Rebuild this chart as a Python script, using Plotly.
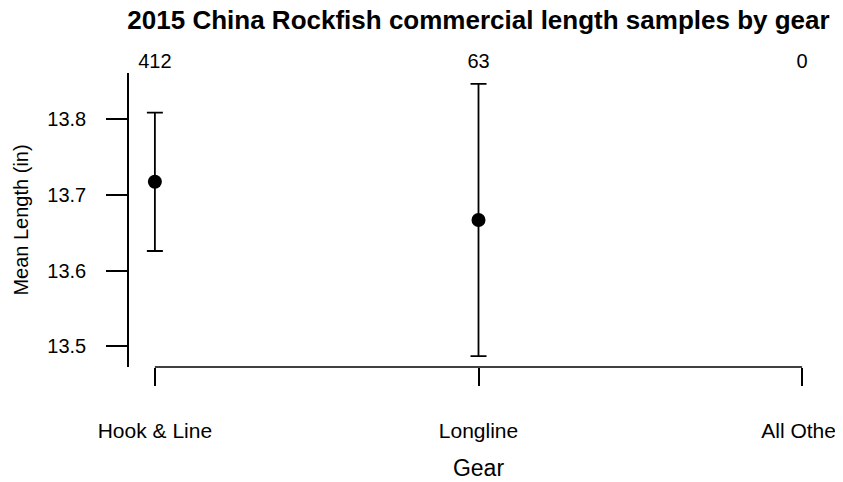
import plotly.graph_objects as go

gears = ["Hook & Line", "Longline", "All Other"]
gear_pos = [1, 2, 3]
mean_len = [13.7175, 13.667, None]
lower_ci = [13.626, 13.487, None]
upper_ci = [13.809, 13.847, None]
n_samples = ["412", "63", "0"]
y_ticks = [13.5, 13.6, 13.7, 13.8]

err_plus = [u - m if m is not None else None for u, m in zip(upper_ci, mean_len)]
err_minus = [m - l if m is not None else None for l, m in zip(lower_ci, mean_len)]

FONT = "Liberation Sans, Arial, sans-serif"

# page body has an 8px margin, so the figure is sized/offset to fill the 843x482 window
W, H = 835, 474
L, T = 121, 65
PW, PH = 699, 294

fig = go.Figure()
fig.add_trace(go.Scatter(
    x=gear_pos, y=mean_len, mode="markers",
    marker=dict(color="black", size=14),
    error_y=dict(type="data", symmetric=False, array=err_plus, arrayminus=err_minus,
                 color="black", thickness=1.8, width=8),
    showlegend=False, hoverinfo="skip",
))
# invisible trace for top axis
fig.add_trace(go.Scatter(x=gear_pos, y=[13.6] * 3, xaxis="x2", mode="markers",
                         marker=dict(opacity=0), showlegend=False, hoverinfo="skip"))

lo, hi = min(lower_ci[:2]), max(upper_ci[:2])
pad = (hi - lo) * 0.04
fig.update_layout(
    width=W, height=H,
    margin=dict(l=L, r=W - L - PW, t=T, b=H - T - PH, pad=0),
    paper_bgcolor="white", plot_bgcolor="white",
    font=dict(family=FONT, color="black"),
    title=dict(text="<b>2015 China Rockfish commercial length samples by gear</b>",
               x=(L + PW / 2) / W, xanchor="center", y=1 - 12 / H, yanchor="middle",
               font=dict(size=26, family=FONT, color="black")),
    xaxis=dict(range=[0.92, 3.08], tickvals=gear_pos, ticktext=gears, automargin=False,
               showgrid=False, zeroline=False, showline=False,
               ticks="outside", ticklen=18, tickwidth=1.5, tickcolor="black",
               ticklabelstandoff=27, tickfont=dict(size=21),
               title=dict(text="Gear", font=dict(size=23), standoff=18)),
    xaxis2=dict(range=[0.92, 3.08], overlaying="x", side="top", tickvals=gear_pos,
                ticktext=n_samples, showgrid=False, zeroline=False, showline=False,
                automargin=False, ticks="", tickfont=dict(size=20), ticklabelstandoff=0),
    yaxis=dict(range=[lo - pad, hi + pad], tickvals=y_ticks, automargin=False,
               ticktext=[f"{v:.1f}" for v in y_ticks],
               showgrid=False, zeroline=False, showline=True, linecolor="black", linewidth=1.5,
               ticks="outside", ticklen=21, tickwidth=1.5, tickcolor="black",
               ticklabelstandoff=16, tickfont=dict(size=20),
               title=dict(text="Mean Length (in)", font=dict(size=20), standoff=13)),
)
fig.add_shape(type="line", xref="x", yref="paper", x0=1, x1=3, y0=0, y1=0,
              line=dict(color="black", width=1.5))
fig.write_html("out.html")
